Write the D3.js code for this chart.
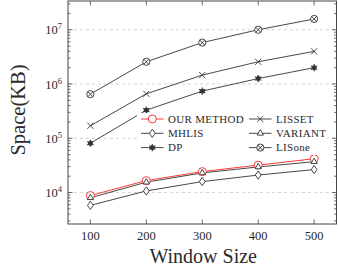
<!DOCTYPE html>
<html>
<head>
<meta charset="utf-8">
<script src="https://cdn.jsdelivr.net/npm/d3@7"></script>
<style>
body{margin:0;background:#fff;}
text{font-family:"Liberation Serif","DejaVu Serif",serif;fill:#2a2a2a;}
</style>
</head>
<body>
<svg id="chart" width="338" height="269"></svg>
<script>
//-----------------------------------------------------------------------------
// DATA
var windowSizes = [100, 200, 300, 400, 500];
var ourMethod   = [8800, 16600, 24300, 32000, 42000];
var variant     = [8000, 15500, 23000, 29600, 37000];
var mhlis       = [5800, 10700, 15900, 21000, 26500];
var dp          = [81000, 330000, 740000, 1260000, 2000000];
var lisset      = [170000, 660000, 1460000, 2570000, 4000000];
var lisone      = [650000, 2570000, 5800000, 10000000, 15800000];
var seriesNames = ["OUR METHOD", "LISSET", "MHLIS", "VARIANT", "DP", "LISone"];
var yTickExps   = [4, 5, 6, 7];
//-----------------------------------------------------------------------------
// LAYOUT
var plotLeft = 68, plotRight = 336.5, plotTop = 1, plotBottom = 224;
var ink = "#333";

var series = [
  {name: seriesNames[0], values: ourMethod, mark: "circle",   color: "#f22"},
  {name: seriesNames[1], values: lisset,    mark: "cross",    color: ink},
  {name: seriesNames[2], values: mhlis,     mark: "diamond",  color: ink},
  {name: seriesNames[3], values: variant,   mark: "triangle", color: ink},
  {name: seriesNames[4], values: dp,        mark: "asterisk", color: ink},
  {name: seriesNames[5], values: lisone,    mark: "otimes",   color: ink}
];

var svg = d3.select("#chart");

var x = d3.scaleLinear().domain([60, 540]).range([plotLeft, plotRight]);
var y = d3.scaleLog().domain([Math.pow(10, 3.42), Math.pow(10, 7.53)]).range([plotBottom, plotTop]);

// grid
svg.append("g").selectAll("line").data(yTickExps).enter().append("line")
   .attr("x1", plotLeft).attr("x2", plotRight)
   .attr("y1", function(d){ return y(Math.pow(10, d)); })
   .attr("y2", function(d){ return y(Math.pow(10, d)); })
   .attr("stroke", "#c8c8c8").attr("stroke-width", 0.8)
   .attr("stroke-dasharray", "3,3");

// minor / major ticks on y (both sides)
var minor = [];
for (var e = 3; e <= 7; e++) {
  for (var m = 2; m <= 9; m++) {
    var v = m * Math.pow(10, e);
    if (y(v) > plotTop && y(v) < plotBottom) minor.push(v);
  }
}
var tickG = svg.append("g").attr("stroke", ink).attr("stroke-width", 0.7);
minor.forEach(function(v){
  tickG.append("line").attr("x1", plotLeft).attr("x2", plotLeft + 2.5).attr("y1", y(v)).attr("y2", y(v));
  tickG.append("line").attr("x1", plotRight).attr("x2", plotRight - 2.5).attr("y1", y(v)).attr("y2", y(v));
});
yTickExps.forEach(function(d){
  var yy = y(Math.pow(10, d));
  tickG.append("line").attr("x1", plotLeft).attr("x2", plotLeft + 4.5).attr("y1", yy).attr("y2", yy);
  tickG.append("line").attr("x1", plotRight).attr("x2", plotRight - 4.5).attr("y1", yy).attr("y2", yy);
});
windowSizes.forEach(function(d){
  tickG.append("line").attr("x1", x(d)).attr("x2", x(d)).attr("y1", plotBottom).attr("y2", plotBottom - 4.5);
  tickG.append("line").attr("x1", x(d)).attr("x2", x(d)).attr("y1", plotTop).attr("y2", plotTop + 4.5);
});

// frame
svg.append("rect").attr("x", plotLeft).attr("y", plotTop)
   .attr("width", plotRight - plotLeft).attr("height", plotBottom - plotTop)
   .attr("fill", "none").attr("stroke", ink).attr("stroke-width", 0.9);

// y tick labels
yTickExps.forEach(function(d){
  var t = svg.append("text").attr("x", 62).attr("y", y(Math.pow(10, d)) + 4.5)
             .attr("text-anchor", "end").attr("font-size", 12.5);
  t.append("tspan").text("10");
  t.append("tspan").attr("dy", -5).attr("font-size", 8.5).text(d);
});

// x tick labels
svg.append("g").selectAll("text").data(windowSizes).enter().append("text")
   .attr("x", function(d){ return x(d); }).attr("y", 240)
   .attr("text-anchor", "middle").attr("font-size", 12.5)
   .text(function(d){ return d; });

// axis titles
svg.append("text").attr("x", (plotLeft + plotRight) / 2 + 1).attr("y", 263)
   .attr("text-anchor", "middle").attr("font-size", 20).text("Window Size");
svg.append("text").attr("transform", "translate(25,110) rotate(-90)")
   .attr("text-anchor", "middle").attr("font-size", 20.5).text("Space(KB)");

//-----------------------------------------------------------------------------
// MARKS
function drawMark(g, kind, cx, cy, color) {
  var s = 3.6;
  if (kind === "circle") {
    g.append("circle").attr("cx", cx).attr("cy", cy).attr("r", s + 0.4)
     .attr("fill", "#fff").attr("stroke", color).attr("stroke-width", 0.9);
  } else if (kind === "otimes") {
    g.append("circle").attr("cx", cx).attr("cy", cy).attr("r", s)
     .attr("fill", "#fff").attr("stroke", color).attr("stroke-width", 0.9);
    var k = s * 0.707;
    g.append("path").attr("d", "M" + (cx - k) + "," + (cy - k) + "L" + (cx + k) + "," + (cy + k) +
                               "M" + (cx - k) + "," + (cy + k) + "L" + (cx + k) + "," + (cy - k))
     .attr("stroke", color).attr("stroke-width", 0.9);
  } else if (kind === "cross") {
    var c = s * 0.85;
    g.append("path").attr("d", "M" + (cx - c) + "," + (cy - c) + "L" + (cx + c) + "," + (cy + c) +
                               "M" + (cx - c) + "," + (cy + c) + "L" + (cx + c) + "," + (cy - c))
     .attr("stroke", color).attr("stroke-width", 0.9);
  } else if (kind === "diamond") {
    g.append("path").attr("d", "M" + cx + "," + (cy - s * 1.15) + "L" + (cx + s * 0.8) + "," + cy +
                               "L" + cx + "," + (cy + s * 1.15) + "L" + (cx - s * 0.8) + "," + cy + "Z")
     .attr("fill", "#fff").attr("stroke", color).attr("stroke-width", 0.9);
  } else if (kind === "triangle") {
    g.append("path").attr("d", "M" + cx + "," + (cy - s) + "L" + (cx + s * 0.87) + "," + (cy + s * 0.5) +
                               "L" + (cx - s * 0.87) + "," + (cy + s * 0.5) + "Z")
     .attr("fill", "#fff").attr("stroke", color).attr("stroke-width", 0.9);
  } else if (kind === "asterisk") {
    var p = "";
    for (var i = 0; i < 3; i++) {
      var a = Math.PI / 2 + i * Math.PI / 3;
      p += "M" + (cx + s * Math.cos(a)) + "," + (cy + s * Math.sin(a)) +
           "L" + (cx - s * Math.cos(a)) + "," + (cy - s * Math.sin(a));
    }
    for (var j = 0; j < 3; j++) {
      var b = j * Math.PI / 3;
      p += "M" + (cx + s * 0.7 * Math.cos(b)) + "," + (cy + s * 0.7 * Math.sin(b)) +
           "L" + (cx - s * 0.7 * Math.cos(b)) + "," + (cy - s * 0.7 * Math.sin(b));
    }
    g.append("path").attr("d", p).attr("stroke", color).attr("stroke-width", 1.1);
  }
}

var line = d3.line()
  .x(function(d, i){ return x(windowSizes[i]); })
  .y(function(d){ return y(d); });

var plotG = svg.append("g");
series.forEach(function(s){
  plotG.append("path").datum(s.values).attr("d", line)
       .attr("fill", "none").attr("stroke", s.color).attr("stroke-width", 0.9);
});
series.forEach(function(s){
  s.values.forEach(function(v, i){
    drawMark(plotG, s.mark, x(windowSizes[i]), y(v), s.color);
  });
});

//-----------------------------------------------------------------------------
// LEGEND
var legG = svg.append("g");
legG.append("rect").attr("x", 137).attr("y", 113).attr("width", 190).attr("height", 42).attr("fill", "#fff");
series.forEach(function(s, i){
  var col = i % 2, row = Math.floor(i / 2);
  var lx = col === 0 ? 141 : 249;
  var ly = 119 + row * 14.3;
  legG.append("line").attr("x1", lx).attr("x2", lx + 22.5).attr("y1", ly).attr("y2", ly)
      .attr("stroke", s.color).attr("stroke-width", 0.9);
  drawMark(legG, s.mark, lx + 11.3, ly, s.color);
  legG.append("text").attr("x", lx + 27).attr("y", ly + 3.8).attr("font-size", 11)
      .attr("letter-spacing", 0.3).text(s.name);
});
</script>
</body>
</html>
